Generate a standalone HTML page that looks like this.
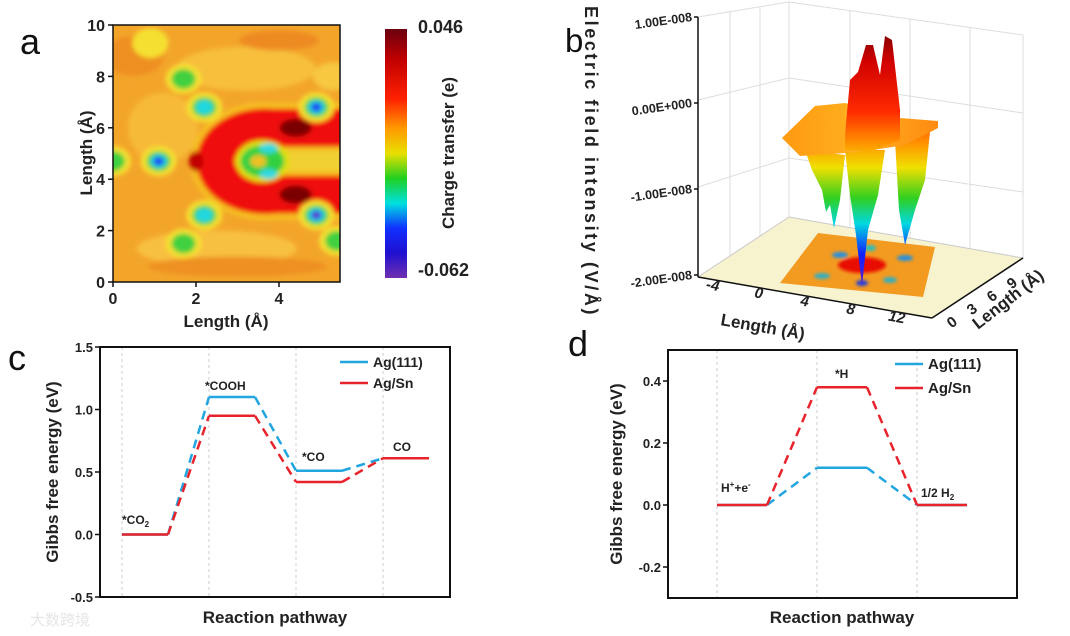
<!DOCTYPE html>
<html><head><meta charset="utf-8">
<style>
html,body{margin:0;padding:0;background:#fff;}
svg{display:block;font-family:"Liberation Sans",Arial,sans-serif;}
.tk{font-size:13px;font-weight:bold;fill:#222;}
.at{font-size:16px;font-weight:bold;fill:#222;}
.pl{font-size:36px;fill:#111;}
.lb{font-size:12px;font-weight:bold;fill:#222;}
</style></head>
<body>
<svg id="fig" width="1070" height="636" viewBox="0 0 1070 636">
<defs>
  <filter id="blur3"><feGaussianBlur stdDeviation="2.5"/></filter>
  <filter id="blur2"><feGaussianBlur stdDeviation="1.6"/></filter>
  <clipPath id="clipA"><rect x="113" y="25" width="227" height="257"/></clipPath>
  <linearGradient id="cbar" x1="0" y1="0" x2="0" y2="1">
    <stop offset="0" stop-color="#6a0010"/><stop offset="0.12" stop-color="#c00000"/><stop offset="0.28" stop-color="#ff2000"/>
    <stop offset="0.4" stop-color="#ff9a00"/><stop offset="0.5" stop-color="#e8e000"/><stop offset="0.6" stop-color="#20d020"/>
    <stop offset="0.7" stop-color="#00e0e0"/><stop offset="0.8" stop-color="#1030ff"/><stop offset="0.9" stop-color="#2010d0"/><stop offset="1" stop-color="#7030b0"/>
  </linearGradient>
  <linearGradient id="surf" gradientUnits="userSpaceOnUse" x1="0" y1="35" x2="0" y2="290">
    <stop offset="0" stop-color="#8a0000"/><stop offset="0.1" stop-color="#d00000"/><stop offset="0.3" stop-color="#ff2a00"/>
    <stop offset="0.42" stop-color="#ff9000"/><stop offset="0.52" stop-color="#f0e000"/><stop offset="0.64" stop-color="#30d020"/>
    <stop offset="0.74" stop-color="#00d8e0"/><stop offset="0.86" stop-color="#1020ff"/><stop offset="1" stop-color="#6a20c0"/>
  </linearGradient>
  <linearGradient id="plat" x1="0" y1="0" x2="1" y2="0">
    <stop offset="0" stop-color="#ff9a10"/><stop offset="0.5" stop-color="#ffb020"/><stop offset="1" stop-color="#ff8a10"/>
  </linearGradient>
</defs>

<!-- ================= PANEL A ================= -->
<g>
  <text class="pl" x="20" y="54">a</text>
  <g clip-path="url(#clipA)">
    <rect x="113" y="25" width="227" height="257" fill="#f3a52a"/>
    <g id="mapBlobs" filter="url(#blur3)"></g>
  </g>
  <rect x="113" y="25" width="227" height="257" fill="none" stroke="#111" stroke-width="1.5"/>
  <g id="axA"></g>
  <text class="at" x="226" y="327" text-anchor="middle" style="font-size:17px">Length (Å)</text>
  <text class="at" transform="translate(92,153) rotate(-90)" text-anchor="middle" style="font-size:17px">Length (Å)</text>
  <rect x="385" y="29" width="22" height="249" fill="url(#cbar)"/>
  <text class="at" x="418" y="33" style="font-size:18px">0.046</text>
  <text class="at" x="418" y="276" style="font-size:18px">-0.062</text>
  <text class="at" transform="translate(454,153) rotate(-90)" text-anchor="middle" style="font-size:17px">Charge transfer (e)</text>
</g>

<!-- ================= PANEL B ================= -->
<g>
  <text class="pl" x="565" y="52" style="font-size:33px">b</text>
  <g stroke="#ddd" stroke-width="1" fill="none">
    <polygon points="698,17 789,2 789,217 698,277" />
    <polygon points="789,2 1023,35 1023,258 789,217"/>
    <line x1="730" y1="12" x2="730" y2="256"/><line x1="760" y1="7" x2="760" y2="236"/>
    <line x1="850" y1="10" x2="850" y2="228"/><line x1="910" y1="19" x2="910" y2="238"/><line x1="970" y1="27" x2="970" y2="248"/>
    <line x1="698" y1="100" x2="789" y2="78"/><line x1="789" y1="78" x2="1023" y2="113"/>
    <line x1="698" y1="187" x2="789" y2="158"/><line x1="789" y1="158" x2="1023" y2="192"/>
  </g>
  <polygon points="698,277 932,318 1023,258 789,217" fill="#f7f3cf" stroke="#ccc"/>
  <g>
    <polygon points="818,233 935,247 923,297 780,283" fill="#f39a20"/>
    <g filter="url(#blur2)">
      <ellipse cx="862" cy="265" rx="24" ry="8" fill="#e81000"/>
      <ellipse cx="840" cy="255" rx="8" ry="3" fill="#2090e0"/><ellipse cx="905" cy="258" rx="8" ry="3" fill="#2090e0"/>
      <ellipse cx="822" cy="276" rx="8" ry="3" fill="#30b0c0"/><ellipse cx="890" cy="280" rx="7" ry="3" fill="#30b0c0"/>
      <ellipse cx="862" cy="283" rx="6" ry="3" fill="#2040e0"/><ellipse cx="870" cy="248" rx="6" ry="3" fill="#20c0c0"/>
    </g>
  </g>
  <g fill="url(#surf)">
    <polygon points="805,150 845,155 840,200 834,228 830,205 826,212 822,190 812,170"/>
    <polygon points="845,150 885,150 878,195 868,230 862,286 856,235 850,195"/>
    <polygon points="895,140 930,132 925,180 915,210 905,245 899,210"/>
  </g>
  <polygon points="782,138 815,106 845,103 900,118 938,121 938,128 905,145 860,152 800,156" fill="url(#plat)"/>
  <polygon points="845,135 850,80 858,72 866,45 873,45 880,75 885,36 892,40 900,110 900,140 870,152 845,150" fill="url(#surf)"/>
  <line x1="698" y1="17" x2="698" y2="277" stroke="#111" stroke-width="1.5"/>
  <line x1="698" y1="277" x2="932" y2="318" stroke="#111" stroke-width="1.5"/>
  <line x1="932" y1="318" x2="1023" y2="258" stroke="#111" stroke-width="1.5"/>
  <g id="axB"></g>
  <text class="at" transform="translate(585,6) rotate(90)" style="font-size:18px;letter-spacing:2.6px">Electric field intensity (V/Å)</text>
  <text class="at" transform="translate(720,325) rotate(10)" style="font-size:17px">Length (Å)</text>
  <text class="at" transform="translate(978,330) rotate(-38)" style="font-size:17px">Length (Å)</text>
</g>

<!-- ================= PANEL C ================= -->
<g>
  <text class="pl" x="8" y="370">c</text>
  <g id="chartC"></g>
  <rect x="100" y="347" width="350" height="250" fill="none" stroke="#111" stroke-width="2"/>
  <text class="at" x="275" y="623" text-anchor="middle" style="font-size:17px">Reaction pathway</text>
  <text class="at" transform="translate(58,472) rotate(-90)" text-anchor="middle" style="font-size:17px">Gibbs free energy (eV)</text>
  <line x1="340" y1="362" x2="368" y2="362" stroke="#22a6e0" stroke-width="2.5"/>
  <text class="tk" x="373" y="367" style="font-size:14px">Ag(111)</text>
  <line x1="340" y1="383" x2="368" y2="383" stroke="#e8232b" stroke-width="2.5"/>
  <text class="tk" x="373" y="388" style="font-size:14px">Ag/Sn</text>
  <text class="lb" x="122" y="524">*CO<tspan font-size="8" dy="3">2</tspan></text>
  <text class="lb" x="205" y="390">*COOH</text>
  <text class="lb" x="302" y="461">*CO</text>
  <text class="lb" x="393" y="451">CO</text>
</g>

<!-- ================= PANEL D ================= -->
<g>
  <text class="pl" x="568" y="356">d</text>
  <g id="chartD"></g>
  <rect x="668" y="350" width="349" height="248" fill="none" stroke="#111" stroke-width="2"/>
  <text class="at" x="842" y="623" text-anchor="middle" style="font-size:17px">Reaction pathway</text>
  <text class="at" transform="translate(622,474) rotate(-90)" text-anchor="middle" style="font-size:17px">Gibbs free energy (eV)</text>
  <line x1="895" y1="364" x2="923" y2="364" stroke="#22a6e0" stroke-width="2.5"/>
  <text class="tk" x="928" y="369" style="font-size:15px">Ag(111)</text>
  <line x1="895" y1="388" x2="923" y2="388" stroke="#e8232b" stroke-width="2.5"/>
  <text class="tk" x="928" y="393" style="font-size:15px">Ag/Sn</text>
  <text class="lb" x="721" y="492">H<tspan font-size="8" dy="-5">+</tspan><tspan dy="5">+e</tspan><tspan font-size="8" dy="-5">-</tspan></text>
  <text class="lb" x="835" y="378">*H</text>
  <text class="lb" x="921" y="497">1/2 H<tspan font-size="8" dy="3">2</tspan></text>
</g>

<text x="30" y="625" style="font-size:15px;font-family:'Liberation Sans','Noto Sans CJK SC',sans-serif" fill="#e6e6e6">大数跨境</text>
</svg>

<script>
const NS = "http://www.w3.org/2000/svg";
// ---------- Panel C data ----------
const stepsC = ["*CO2", "*COOH", "*CO", "CO"];
const ag111C = [0, 1.10, 0.51, 0.61];
const agsnC  = [0, 0.95, 0.42, 0.61];
const ticksC = [-0.5, 0.0, 0.5, 1.0, 1.5];
const tickLabelsC = ["-0.5", "0.0", "0.5", "1.0", "1.5"];
// ---------- Panel D data ----------
const stepsD = ["H++e-", "*H", "1/2 H2"];
const ag111D = [0, 0.12, 0];
const agsnD  = [0, 0.38, 0];
const ticksD = [-0.2, 0.0, 0.2, 0.4];
const tickLabelsD = ["-0.2", "0.0", "0.2", "0.4"];
// ---------- Panel A data (Å units) ----------
const xTicksA = [0, 2, 4];
const yTicksA = [0, 2, 4, 6, 8, 10];
const blobX = [1.1, 4.9, 4.9, 2.2, 2.2, 1.7, 1.7, 5.4, 0.9, 0.0];
const blobY = [4.7, 6.8, 2.6, 6.8, 2.6, 7.9, 1.5, 1.6, 9.3, 4.7];
const blobDepth = [3, 3, 4, 2, 2, 1, 1, 1, 0, 1];
// ---------- Panel B tick labels ----------
const zTicksB = ["1.00E-008", "0.00E+000", "-1.00E-008", "-2.00E-008"];
const xTicksB = ["-4", "0", "4", "8", "12"];
const yTicksB = ["0", "3", "6", "9"];

function mk(tag, attrs, parent, text) {
  const e = document.createElementNS(NS, tag);
  for (const k in attrs) e.setAttribute(k, attrs[k]);
  if (text !== undefined) e.textContent = text;
  parent.appendChild(e);
  return e;
}

function energyChart(gid, steps, s1, s2, ticks, labels, box, yMin, yMax, xFirst, xStep, half) {
  const g = document.getElementById(gid);
  const sy = v => box.y + box.h - (v - yMin) / (yMax - yMin) * box.h;
  const sx = i => xFirst + i * xStep;
  steps.forEach((s, i) => {
    const l = mk("line", {x1: sx(i), y1: box.y, x2: sx(i), y2: box.y + box.h, stroke: "#ccc", "stroke-dasharray": "3,3"}, g);
    
    
  });
  ticks.forEach((t, i) => {
    const tl = mk("line", {x1: box.x - 5, y1: sy(t), x2: box.x, y2: sy(t), stroke: "#111", "stroke-width": 1.5}, g);
    
    
    const tx = mk("text", {x: box.x - 7, y: sy(t) + 5, "text-anchor": "end", class: "tk"}, g, labels[i]);
    
    
  });
  [[s1, "#22a6e0", "ag111"], [s2, "#e8232b", "agsn"]].forEach(([ser, col, nm]) => {
    ser.forEach((v, i) => {
      const lv = mk("line", {x1: sx(i), y1: sy(v), x2: sx(i) + half, y2: sy(v), stroke: col, "stroke-width": 2.5}, g);
      
      
      if (i < ser.length - 1) {
        const c = mk("line", {x1: sx(i) + half, y1: sy(v), x2: sx(i + 1), y2: sy(ser[i + 1]), stroke: col, "stroke-width": 2.5, "stroke-dasharray": "9,6"}, g);
        
        
      }
    });
  });
}
energyChart("chartC", stepsC, ag111C, agsnC, ticksC, tickLabelsC, {x: 100, y: 347, w: 350, h: 250}, -0.5, 1.5, 122, 87, 46);
energyChart("chartD", stepsD, ag111D, agsnD, ticksD, tickLabelsD, {x: 668, y: 350, w: 349, h: 248}, -0.3, 0.5, 717, 100, 50);

// ---------- Panel A map ----------
(function () {
  const sx = v => 113 + v * 41.5;
  const sy = v => 282 - v * 25.7;
  const g = document.getElementById("mapBlobs");
  [[3.2, 8.3, 70, 22, "#f7bf3a"], [1.2, 6.0, 35, 35, "#f6ba38"], [2.5, 1.3, 80, 18, "#f8c040"], [0.5, 8.8, 30, 20, "#ee8f20"], [4.0, 9.4, 40, 10, "#ee8a20"], [3.0, 0.6, 90, 10, "#ee9022"], [5.3, 8.0, 20, 14, "#f7c840"]]
    .forEach(p => { const e = mk("ellipse", {cx: sx(p[0]), cy: sy(p[1]), rx: p[2], ry: p[3], fill: p[4]}, g);   });
  const dC = `M ${sx(5.9)} ${sy(6.0)} L ${sx(3.9)} ${sy(6.0)} A 50 34 0 1 0 ${sx(3.9)} ${sy(3.4)} L ${sx(5.9)} ${sy(3.4)}`;
  const c = mk("path", {d: dC, fill: "none", stroke: "#f6c020", "stroke-width": 50}, g);
   
  const c2 = mk("path", {d: dC, fill: "none", stroke: "#f01008", "stroke-width": 38}, g);
   
  [[4.4, 6.0], [4.4, 3.4], [2.0, 4.7]].forEach((p, i) => {
    const d = mk("ellipse", {cx: sx(p[0]), cy: sy(p[1]), rx: i < 2 ? 16 : 7, ry: i < 2 ? 9 : 10, fill: i < 2 ? "#7a0000" : "#c00000"}, g);
     
  });
  const mid = mk("rect", {x: sx(3.9), y: sy(5.1), width: 90, height: 20, fill: "#f0d030"}, g);
   
  const ir = mk("ellipse", {cx: sx(3.6), cy: sy(4.7), rx: 27, ry: 21, fill: "#e0e010"}, g);  
  const ir2 = mk("ellipse", {cx: sx(3.6), cy: sy(4.7), rx: 22, ry: 16, fill: "#30d040"}, g);  
  [[3.75, 5.2], [3.75, 4.2]].forEach(p => { const e = mk("ellipse", {cx: sx(p[0]), cy: sy(p[1]), rx: 9, ry: 5, fill: "#30d8e0"}, g);   });
  const ic = mk("ellipse", {cx: sx(3.5), cy: sy(4.7), rx: 8, ry: 6, fill: "#f0c020"}, g);  
  const cols = ["#f5e030", "#40d040", "#20d8e0", "#2040f0", "#7020b0"];
  const rads = [15, 10, 7, 4.5, 2.5];
  blobX.forEach((bx, i) => {
    for (let k = 0; k <= blobDepth[i] && k < cols.length; k++) {
      const e = mk("ellipse", {cx: sx(bx), cy: sy(blobY[i]), rx: rads[k] * 1.2, ry: rads[k], fill: cols[k]}, g);
      
      
    }
  });
  const ax = document.getElementById("axA");
  xTicksA.forEach(t => {
    const l = mk("line", {x1: sx(t), y1: 282, x2: sx(t), y2: 287, stroke: "#111", "stroke-width": 1.5}, ax);
     
    const tx = mk("text", {x: sx(t), y: 304, "text-anchor": "middle", class: "tk", style: "font-size:16px"}, ax, String(t));
     
  });
  yTicksA.forEach(t => {
    const l = mk("line", {x1: 108, y1: sy(t), x2: 113, y2: sy(t), stroke: "#111", "stroke-width": 1.5}, ax);
     
    const tx = mk("text", {x: 105, y: sy(t) + 6, "text-anchor": "end", class: "tk", style: "font-size:16px"}, ax, String(t));
     
  });
})();

// ---------- Panel B axes ----------
(function () {
  const ax = document.getElementById("axB");
  zTicksB.forEach((t, i) => {
    const y = 17 + i * 86;
    const l = mk("line", {x1: 694, y1: y, x2: 698, y2: y, stroke: "#111", "stroke-width": 1.5}, ax);
     
    const tx = mk("text", {x: 692, y: y + 4, "text-anchor": "end", class: "tk", style: "font-size:12.5px", transform: `rotate(-8 692 ${y})`}, ax, t);
     
  });
  xTicksB.forEach((t, i) => {
    const x = 712 + i * 46, y = 290 + i * 8;
    const tx = mk("text", {x: x, y: y, "text-anchor": "middle", class: "tk", style: "font-size:15px;font-style:italic", transform: `rotate(10 ${x} ${y})`}, ax, t);
     
  });
  yTicksB.forEach((t, i) => {
    const x = 955 + i * 20, y = 326 - i * 13;
    const tx = mk("text", {x: x, y: y, "text-anchor": "middle", class: "tk", style: "font-size:15px", transform: `rotate(-38 ${x} ${y})`}, ax, t);
     
  });
})();
</script>
</body></html>
